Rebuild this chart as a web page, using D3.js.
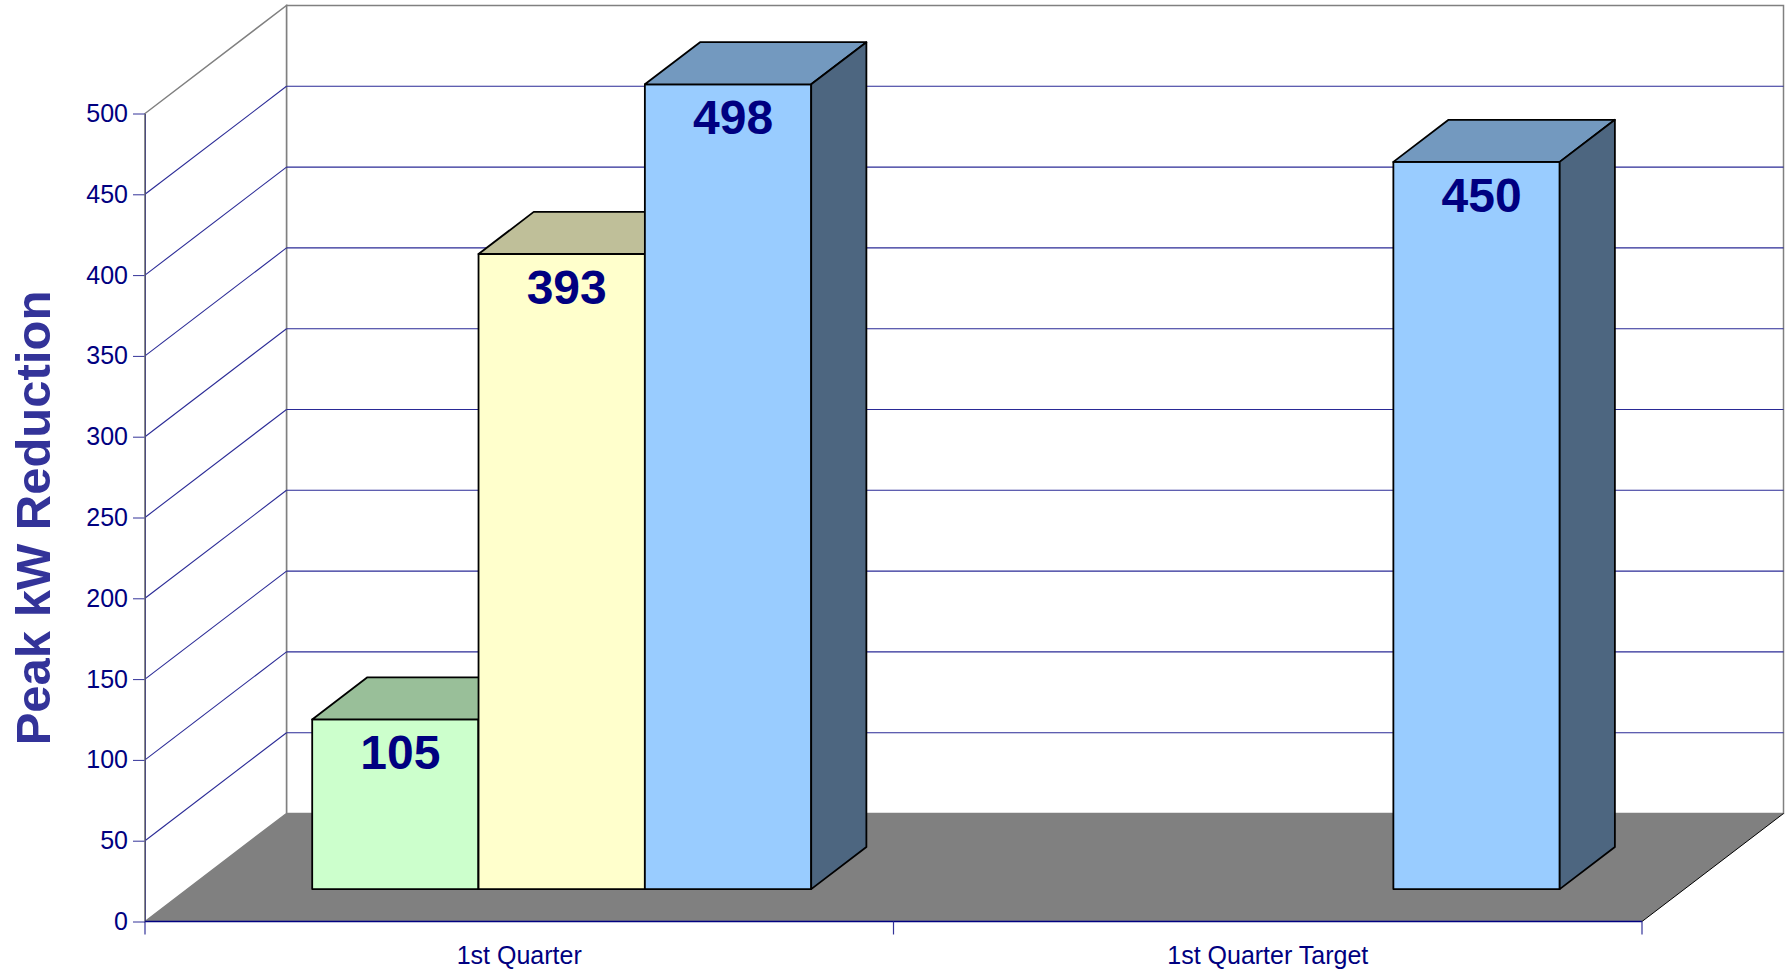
<!DOCTYPE html>
<html>
<head>
<meta charset="utf-8">
<script src="https://cdn.jsdelivr.net/npm/d3@7"></script>
<style>
  body { margin: 0; background: #fff; }
  text { font-family: "Liberation Sans", Arial, sans-serif; }
</style>
</head>
<body>
<script>
// chart data
const categories = ["1st Quarter", "1st Quarter Target"];
const seriesNames = ["Series 1", "Series 2", "Series 3"];
const series1 = [105, null];
const series2 = [393, null];
const series3 = [498, 450];
const yTicks = [0, 50, 100, 150, 200, 250, 300, 350, 400, 450, 500];
const seriesColors = ["#CCFFCC", "#FFFFCC", "#99CCFF"];

const width = 1792, height = 973;
const depthX = 141.5, depthY = -108;   // full floor depth in screen px
const barFront = 0.30, barBack = 0.69; // bar depth as fraction of floor depth
const navy = "#000080", grey = "#808080";

const svg = d3.select("body").append("svg")
  .attr("width", width)
  .attr("height", height);

//scales
const y = d3.scaleLinear().domain([0, 500]).range([921.5, 113.5]);
const x0 = d3.scaleBand().domain(categories).range([145, 1642]).padding(0);
const x1 = d3.scaleBand().domain(seriesNames).range([0, x0.bandwidth()])
  .paddingInner(0).paddingOuter(0.75);

const xLeft = x0.range()[0], xRight = x0.range()[1];
const yTop = y(500), yBottom = y(0);

const shade = (c, k) => {
  const r = d3.rgb(c);
  return d3.rgb(r.r * k, r.g * k, r.b * k).formatHex();
};
const pts = a => a.map(p => p.join(",")).join(" ");

//walls
svg.append("rect")
  .attr("x", xLeft + depthX).attr("y", yTop + depthY)
  .attr("width", xRight - xLeft).attr("height", yBottom - yTop)
  .attr("fill", "#fff").attr("stroke", grey).attr("stroke-width", 1.5);

svg.append("polygon")
  .attr("points", pts([[xLeft, yBottom], [xLeft, yTop], [xLeft + depthX, yTop + depthY], [xLeft + depthX, yBottom + depthY]]))
  .attr("fill", "#fff").attr("stroke", grey).attr("stroke-width", 1.5);

//gridlines on left and back wall
const grid = yTicks.filter(v => v > 0 && v < 500);
svg.append("g").selectAll("line")
  .data(grid).enter().append("line")
  .attr("x1", xLeft).attr("y1", d => y(d))
  .attr("x2", xLeft + depthX).attr("y2", d => y(d) + depthY)
  .attr("stroke", "#2a2a96").attr("stroke-width", 1.1);

svg.append("g").selectAll("line")
  .data(grid).enter().append("line")
  .attr("x1", xLeft + depthX).attr("y1", d => y(d) + depthY)
  .attr("x2", xRight + depthX).attr("y2", d => y(d) + depthY)
  .attr("stroke", "#2a2a96").attr("stroke-width", 1.1);

//floor
svg.append("polygon")
  .attr("points", pts([[xLeft, yBottom], [xRight, yBottom], [xRight + depthX, yBottom + depthY], [xLeft + depthX, yBottom + depthY]]))
  .attr("fill", grey);
svg.append("line")
  .attr("x1", xRight).attr("y1", yBottom)
  .attr("x2", xRight + depthX).attr("y2", yBottom + depthY)
  .attr("stroke", "#000").attr("stroke-width", 1);

//add y axis
const yAxis = svg.append("g")
  .attr("transform", "translate(" + xLeft + ",0)")
  .call(d3.axisLeft(y).tickValues(yTicks).tickSize(12).tickSizeOuter(0).tickPadding(5));
yAxis.select(".domain").attr("stroke", navy);
yAxis.selectAll(".tick line").attr("stroke", "#333399");
yAxis.selectAll(".tick text")
  .attr("fill", navy)
  .style("font-size", "25px")
  .style("font-family", "'Liberation Sans', Arial, sans-serif");

// grey front edge of the left wall sits over the axis line
svg.append("line")
  .attr("x1", xLeft).attr("y1", yTop)
  .attr("x2", xLeft).attr("y2", yBottom)
  .attr("stroke", grey).attr("stroke-width", 1.2);

//add x axis
svg.append("line")
  .attr("x1", xLeft).attr("y1", yBottom)
  .attr("x2", xRight).attr("y2", yBottom)
  .attr("stroke", navy).attr("stroke-width", 1.5);

const bounds = categories.map(c => x0(c)).concat([xRight]);
svg.append("g").selectAll("line")
  .data(bounds).enter().append("line")
  .attr("x1", d => d).attr("x2", d => d)
  .attr("y1", yBottom).attr("y2", yBottom + 13)
  .attr("stroke", "#333399").attr("stroke-width", 1.2);

svg.append("g").selectAll("text")
  .data(categories).enter().append("text")
  .attr("x", d => x0(d) + x0.bandwidth() / 2)
  .attr("y", 964)
  .attr("text-anchor", "middle")
  .attr("fill", navy)
  .style("font-size", "25px")
  .text(d => d);

//y axis title
svg.append("text")
  .attr("transform", "translate(50," + 518 + ") rotate(-90)")
  .attr("text-anchor", "middle")
  .attr("fill", "#333399")
  .style("font-size", "49px")
  .style("font-weight", "bold")
  .text("Peak kW Reduction");

//bars, drawn left to right so each one covers the side of the previous
const allSeries = [series1, series2, series3];
const bars = [];
categories.forEach((c, ci) => {
  seriesNames.forEach((s, si) => {
    const v = allSeries[si][ci];
    if (v == null) return;
    bars.push({ cat: c, name: s, value: v, color: seriesColors[si] });
  });
});

const fx = barFront * depthX, fy = barFront * depthY;
const bx = (barBack - barFront) * depthX, by = (barBack - barFront) * depthY;

const barG = svg.append("g").selectAll("g")
  .data(bars).enter().append("g")
  .attr("stroke", "#000").attr("stroke-width", 1.8).attr("stroke-linejoin", "round");

barG.each(function (d) {
  const g = d3.select(this);
  const xl = x0(d.cat) + x1(d.name) + fx;
  const xr = xl + x1.bandwidth();
  const yt = y(d.value) + fy;
  const yb = y(0) + fy;
  // front
  g.append("polygon")
    .attr("points", pts([[xl, yb], [xl, yt], [xr, yt], [xr, yb]]))
    .attr("fill", d.color);
  // top
  g.append("polygon")
    .attr("points", pts([[xl, yt], [xl + bx, yt + by], [xr + bx, yt + by], [xr, yt]]))
    .attr("fill", shade(d.color, 0.75));
  // side
  g.append("polygon")
    .attr("points", pts([[xr, yt], [xr + bx, yt + by], [xr + bx, yb + by], [xr, yb]]))
    .attr("fill", shade(d.color, 0.5));
});

//value labels
svg.append("g").selectAll("text")
  .data(bars).enter().append("text")
  .attr("x", d => x0(d.cat) + x1(d.name) + fx + x1.bandwidth() / 2 + 5)
  .attr("y", d => y(d.value) + fy + 50)
  .attr("text-anchor", "middle")
  .attr("fill", navy)
  .style("font-size", "48px")
  .style("font-weight", "bold")
  .text(d => d.value);
</script>
</body>
</html>
